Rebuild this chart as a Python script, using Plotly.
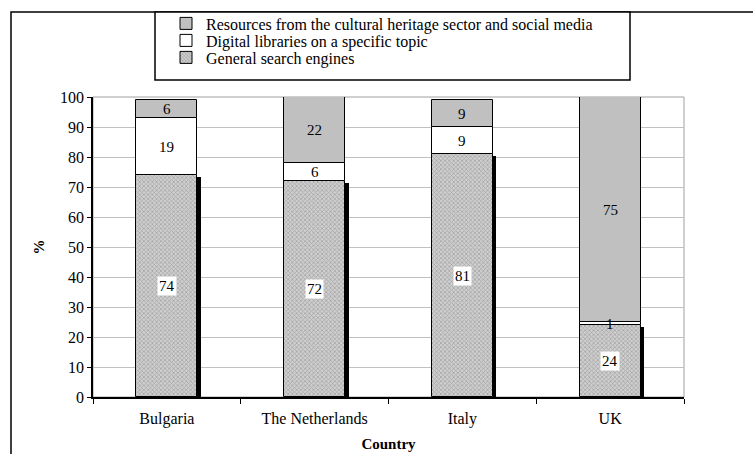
import plotly.graph_objects as go

countries = ["Bulgaria", "The Netherlands", "Italy", "UK"]
general_search = [74, 72, 81, 24]
digital_libraries = [19, 6, 9, 1]
cultural_resources = [6, 22, 9, 75]
y_ticks = [0, 10, 20, 30, 40, 50, 60, 70, 80, 90, 100]

FONT = "Liberation Serif"
BW = 0.413
PW, PH = 591.0, 300.0

fig = go.Figure()

# shadow behind general search engine bars
fig.add_trace(go.Bar(
    x=countries, y=[v - 0.7 for v in general_search], base=0,
    width=0.05, offset=0.18, marker=dict(color="black", line=dict(width=0)),
    showlegend=False, hoverinfo="skip"))

fig.add_trace(go.Bar(
    x=countries, y=general_search, base=0, name="General search engines",
    width=BW, offset=-BW / 2, legend="legend3",
    marker=dict(color="#b8b8b8", line=dict(color="black", width=1),
                pattern=dict(shape="x", size=3, solidity=0.45,
                             fgcolor="#7a7a7a", bgcolor="#cfcfcf"))))

base_dig = list(general_search)
fig.add_trace(go.Bar(
    x=countries, y=digital_libraries, base=base_dig,
    name="Digital libraries on a specific topic",
    width=BW, offset=-BW / 2, legend="legend2",
    marker=dict(color="white", line=dict(color="black", width=1))))

base_res = [g + d for g, d in zip(general_search, digital_libraries)]
fig.add_trace(go.Bar(
    x=countries, y=cultural_resources, base=base_res,
    name="Resources from the cultural heritage sector and social media",
    width=BW, offset=-BW / 2, legend="legend",
    marker=dict(color="#c0c0c0", line=dict(color="black", width=1))))

annotations = []
for c, g, d, r in zip(countries, general_search, digital_libraries, cultural_resources):
    annotations.append(dict(x=c, y=g / 2, text=str(g), showarrow=False,
                            bgcolor="white", borderpad=1,
                            font=dict(family=FONT, size=15, color="black")))
    annotations.append(dict(x=c, y=g + d / 2, text=str(d), showarrow=False,
                            font=dict(family=FONT, size=15, color="black")))
    annotations.append(dict(x=c, y=g + d + r / 2, text=str(r), showarrow=False,
                            font=dict(family=FONT, size=15, color="black")))

shapes = [
    # outer frame
    dict(type="rect", xref="paper", yref="paper",
         x0=(11 - 93) / PW, x1=1.3, y0=-0.4, y1=(397 - 12) / PH,
         line=dict(color="black", width=1.5), layer="below"),
    # legend frame
    dict(type="rect", xref="paper", yref="paper",
         x0=(155 - 93) / PW, x1=(630 - 93) / PW,
         y0=(397 - 80) / PH, y1=(397 - 12) / PH,
         line=dict(color="black", width=1.5), fillcolor="white", layer="below"),
    # plot area border
    dict(type="rect", xref="paper", yref="paper", x0=0, x1=1, y0=0, y1=1,
         line=dict(color="#a0a0a0", width=1), layer="below"),
]


def leg(row_y):
    return dict(x=(166 - 93) / PW, y=(397 - row_y) / PH, xanchor="left",
                yanchor="middle", bgcolor="rgba(0,0,0,0)", borderwidth=0,
                font=dict(family=FONT, size=16, color="black"), itemwidth=30)


fig.update_layout(
    width=753, height=454,
    margin=dict(l=93, r=69, t=97, b=57, autoexpand=False),
    paper_bgcolor="white", plot_bgcolor="white",
    barmode="overlay", bargap=0,
    font=dict(family=FONT, size=16, color="black"),
    showlegend=True,
    legend=leg(23.5), legend2=leg(40.5), legend3=leg(57.5),
    annotations=annotations,
    shapes=shapes,
    xaxis=dict(type="category", showgrid=False, showline=True, linecolor="black",
               linewidth=1.5, ticks="outside", tickson="boundaries", ticklen=5,
               tickcolor="black", tickfont=dict(family=FONT, size=16),
               ticklabelstandoff=6, automargin=False,
               title=dict(text="<b>Country</b>", font=dict(family=FONT, size=15),
                          standoff=12)),
    yaxis=dict(range=[0, 100], tickvals=y_ticks, showgrid=True, gridcolor="#c0c0c0",
               gridwidth=1, showline=True, linecolor="black", linewidth=1.5,
               ticks="outside", ticklen=4, tickcolor="black", zeroline=False,
               tickfont=dict(family=FONT, size=16), automargin=False,
               title=dict(text="<b>%</b>", font=dict(family=FONT, size=15),
                          standoff=12)),
)

fig.write_html("out.html")
